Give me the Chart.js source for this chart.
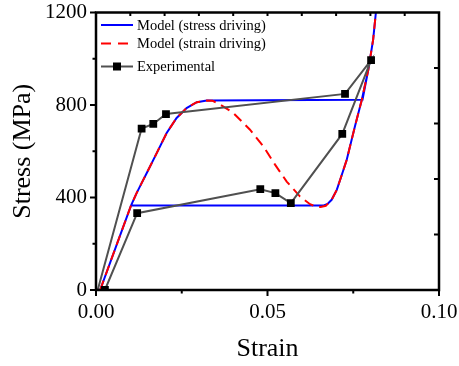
<!DOCTYPE html>
<html>
<head>
<meta charset="utf-8">
<script src="https://cdn.jsdelivr.net/npm/chart.js@4.4.1/dist/chart.umd.min.js"></script>
<style>
  body { margin: 0; background: #fff; }
  #wrap { width: 459px; height: 366px; }
</style>
</head>
<body>
<div id="wrap"><canvas id="myChart" width="459" height="366"></canvas></div>
<script>
// valores (strain, stress em MPa)
var stressStrain = [0.0012, 0.0102, 0.0118, 0.0133, 0.0148, 0.0177, 0.0206, 0.0235, 0.0264, 0.0294, 0.0323,
  0.0777, 0.0794, 0.0808, 0.0816, 0.0808, 0.0794, 0.0775, 0.0755, 0.0731, 0.0716, 0.0702, 0.0687,
  0.0675, 0.0662, 0.0102];
var stressStress = [0, 365, 418, 462, 506, 592, 679, 744, 787, 812, 819,
  823, 953, 1083, 1200, 1083, 953, 823, 708, 563, 495, 433, 390,
  372, 365, 365];

var strainStrain = [0.0012, 0.0102, 0.0118, 0.0133, 0.0148, 0.0177, 0.0206, 0.0235, 0.0264, 0.0294, 0.0323,
  0.0340, 0.0362, 0.0400, 0.0449, 0.0488, 0.0522, 0.0556, 0.0595, 0.0624, 0.0640, 0.0655, 0.0670,
  0.0687, 0.0702, 0.0716, 0.0731, 0.0755, 0.0775, 0.0794, 0.0808, 0.0816];
var strainStress = [0, 365, 418, 462, 506, 592, 679, 744, 787, 812, 819,
  818, 802, 766, 693, 621, 542, 469, 404, 371, 362, 359, 364,
  390, 433, 495, 563, 708, 823, 953, 1083, 1200];

var expStrain = [0.0005, 0.0133, 0.0167, 0.0204, 0.0726, 0.0802, 0.0718, 0.0568, 0.0523, 0.0479, 0.0120, 0.0026];
var expStress = [0, 698, 718, 761, 848, 994, 675, 376, 419, 436, 332, 0];

var seriesNames = ['Model (stress driving)', 'Model (strain driving)', 'Experimental'];
var xTickValues = [0, 0.05, 0.10];
var xMinorTicks = [0.025, 0.075];
var topTicks = [0.01, 0.02, 0.03, 0.04, 0.05, 0.06, 0.07, 0.08, 0.09];
var yTickValues = [0, 400, 800, 1200];
var yMinorTicks = [200, 600, 1000];
var rightTicks = [240, 480, 720, 960];

function pares(xs, ys) {
  var out = [];
  for (var i = 0; i < xs.length; i++) {
    out.push({x: xs[i], y: ys[i]});
  }
  return out;
}

var serif = 'Liberation Serif';

// moldura, ticks e legenda
var moldura = {
  id: 'moldura',
  afterDraw: function(chart) {
    var ctx = chart.ctx;
    var a = chart.chartArea;
    var sx = chart.scales.x, sy = chart.scales.y;
    ctx.save();
    ctx.strokeStyle = '#000';
    ctx.lineWidth = 2.5;
    ctx.strokeRect(a.left, a.top, a.right - a.left, a.bottom - a.top);

    ctx.lineWidth = 2;
    ctx.beginPath();
    yTickValues.forEach(function(v) {
      var p = sy.getPixelForValue(v);
      ctx.moveTo(a.left, p); ctx.lineTo(a.left - 6, p);
    });
    yMinorTicks.forEach(function(v) {
      var p = sy.getPixelForValue(v);
      ctx.moveTo(a.left, p); ctx.lineTo(a.left - 3.5, p);
    });
    xTickValues.forEach(function(v) {
      var p = sx.getPixelForValue(v);
      ctx.moveTo(p, a.bottom); ctx.lineTo(p, a.bottom + 6);
    });
    xMinorTicks.forEach(function(v) {
      var p = sx.getPixelForValue(v);
      ctx.moveTo(p, a.bottom); ctx.lineTo(p, a.bottom + 3.5);
    });
    topTicks.forEach(function(v) {
      var p = sx.getPixelForValue(v);
      ctx.moveTo(p, a.top); ctx.lineTo(p, a.top + 3.5);
    });
    rightTicks.forEach(function(v) {
      var p = sy.getPixelForValue(v);
      ctx.moveTo(a.right, p); ctx.lineTo(a.right - 5, p);
    });
    ctx.stroke();

    // legenda
    var ds = chart.data.datasets;
    var rows = [25, 43.5, 66.5];
    var x0 = a.left + 5, x1 = a.left + 37;
    ctx.font = '14.5px "' + serif + '"';
    ctx.textBaseline = 'middle';
    ctx.fillStyle = '#000';
    for (var i = 0; i < ds.length; i++) {
      ctx.strokeStyle = ds[i].borderColor;
      ctx.lineWidth = ds[i].borderWidth;
      ctx.setLineDash(i == 1 ? [10, 7] : []);
      ctx.beginPath();
      ctx.moveTo(x0, rows[i]); ctx.lineTo(x1, rows[i]);
      ctx.stroke();
      ctx.setLineDash([]);
      if (i == 2) {
        ctx.fillStyle = '#000';
        ctx.fillRect((x0 + x1) / 2 - 4, rows[i] - 4, 8, 8);
      }
      ctx.fillStyle = '#000';
      ctx.fillText(seriesNames[i], x1 + 4, rows[i] + 1);
    }
    ctx.restore();
  }
};

var ctx = document.getElementById('myChart').getContext('2d');

var myChart = new Chart(ctx, {
  type: 'scatter',
  data: {
    datasets: [{
      label: seriesNames[0],
      data: pares(stressStrain, stressStress),
      showLine: true,
      borderColor: '#0000ff',
      backgroundColor: '#0000ff',
      borderWidth: 2,
      pointRadius: 0,
      tension: 0,
      order: 3
    }, {
      label: seriesNames[1],
      data: pares(strainStrain, strainStress),
      showLine: true,
      borderColor: '#ff0000',
      backgroundColor: '#ff0000',
      borderWidth: 2,
      borderDash: [10, 6],
      pointRadius: 0,
      tension: 0,
      order: 2
    }, {
      label: seriesNames[2],
      data: pares(expStrain, expStress),
      showLine: true,
      borderColor: '#505050',
      backgroundColor: '#000',
      borderWidth: 2,
      pointStyle: 'rect',
      pointRadius: expStrain.map(function(v, i) { return i == 0 ? 0 : 5.5; }),
      pointBorderWidth: 0,
      tension: 0,
      order: 1
    }]
  },
  options: {
    responsive: false,
    animation: false,
    events: [],
    layout: { padding: 0 },
    plugins: {
      legend: { display: false },
      tooltip: { enabled: false }
    },
    scales: {
      x: {
        type: 'linear',
        position: 'bottom',
        min: 0,
        max: 0.1,
        afterBuildTicks: function(s) { s.ticks = xTickValues.map(function(v) { return {value: v}; }); },
        afterFit: function(s) { s.height = 76; s.paddingLeft = 0; s.paddingRight = 0; },
        grid: { display: false, drawTicks: false },
        border: { display: false },
        ticks: {
          padding: 10,
          color: '#000',
          font: { family: serif, size: 21 },
          maxRotation: 0,
          callback: function(v) { return v.toFixed(2); }
        },
        title: {
          display: true,
          text: 'Strain',
          color: '#000',
          font: { family: serif, size: 26 },
          padding: { top: 0, bottom: 1 }
        }
      },
      xTop: {
        type: 'linear',
        position: 'top',
        min: 0,
        max: 0.1,
        afterFit: function(s) { s.height = 12.5; s.paddingLeft = 0; s.paddingRight = 0; },
        grid: { display: false, drawTicks: false },
        border: { display: false },
        ticks: { display: false }
      },
      y: {
        type: 'linear',
        position: 'left',
        min: 0,
        max: 1200,
        afterBuildTicks: function(s) { s.ticks = yTickValues.map(function(v) { return {value: v}; }); },
        afterFit: function(s) { s.width = 96; s.paddingTop = 0; s.paddingBottom = 0; },
        grid: { display: false, drawTicks: false },
        border: { display: false },
        ticks: {
          padding: 9,
          color: '#000',
          font: { family: serif, size: 21 },
          callback: function(v) { return String(v); }
        },
        title: {
          display: true,
          text: 'Stress (MPa)',
          color: '#000',
          font: { family: serif, size: 26 },
          padding: { top: 8, bottom: 0 }
        }
      },
      yRight: {
        type: 'linear',
        position: 'right',
        min: 0,
        max: 1200,
        afterFit: function(s) { s.width = 20; s.paddingTop = 0; s.paddingBottom = 0; },
        grid: { display: false, drawTicks: false },
        border: { display: false },
        ticks: { display: false }
      }
    }
  },
  plugins: [moldura]
});
</script>
</body>
</html>
